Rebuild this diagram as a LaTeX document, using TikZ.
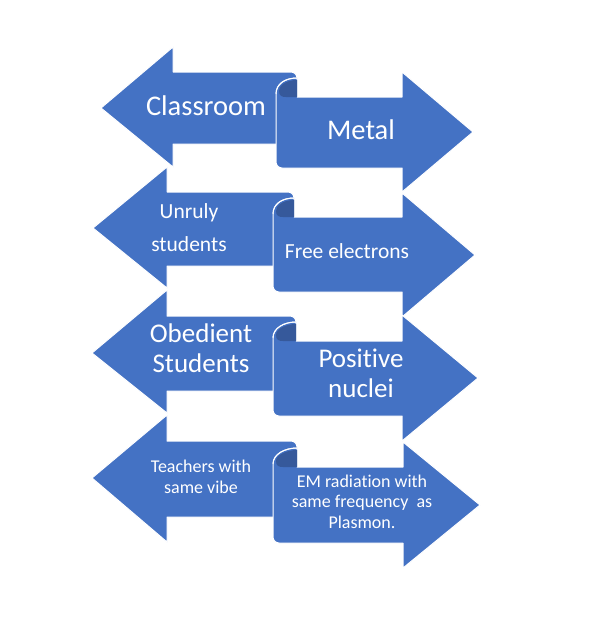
\documentclass[tikz,border=0pt]{standalone}
\usepackage{fontspec}
\setmainfont{Carlito}[RawFeature={-liga;-calt}]
\definecolor{arrblue}{HTML}{4472C4}
\definecolor{curldark}{HTML}{36599B}
\tikzset{
  arrshape/.style={fill=arrblue, draw=white, line width=1pt, line join=round},
  curlshade/.style={fill=curldark, draw=none},
  lbl/.style={text=white, align=center, inner sep=0pt},
}
% left arrow: tipx tipy headx headtop headbot shafttop shaftbot rightx
\newcommand\leftarr[8]{%
  \filldraw[arrshape] (#1,#2) -- (#3,#4) -- (#3,#6) [rounded corners=6pt] -- (#8,#6) -- (#8,#7) [sharp corners] -- (#3,#7) -- (#3,#5) -- cycle;
}
% right arrow: leftx rightR shafttop shaftbot headtop headbot headx tipx tipy
\newcommand\rightarr[9]{%
  \filldraw[arrshape] (#2,#3) -- (#7,#3) -- (#7,#5) -- (#8,#9) -- (#7,#6) -- (#7,#4) [rounded corners=6pt] -- (#1,#4) -- ({#1},{#4-20}) [sharp corners] -- ({#1},{#3-3}) .. controls ({#1},{#3-13}) and ({#2-12},{#3-19}) .. ({#2},{#3-19}) -- cycle;
  \fill[curlshade] ({#2},{#3-17}) .. controls ({#2-10},{#3-17}) and ({#1+3},{#3-12}) .. ({#1+3},{#3-6}) .. controls ({#1+3},{#3-1}) and ({#1+6},{#3}) .. ({#1+10},{#3}) -- ({#2},{#3}) -- cycle;
  \draw[white, line width=1pt] ({#1},{#3-3}) .. controls ({#1},{#3-13}) and ({#2-12},{#3-19}) .. ({#2},{#3-19});
}
\begin{document}
\begin{tikzpicture}[x=1pt, y=-1pt]
\useasboundingbox[fill=white] (0,0) rectangle (602,642);
% row 1
\leftarr{101}{108}{173}{47}{167}{72}{144}{297}
\rightarr{276}{297}{97}{168}{72}{192}{402}{473}{132}
% row 2
\leftarr{93}{228}{167}{167}{288}{192}{266}{294}
\rightarr{273}{294}{217}{292}{193}{317}{402}{475}{255}
% row 3
\leftarr{92}{353}{167}{290}{413}{316}{391}{296}
\rightarr{273}{296}{341}{416}{315}{441}{402}{478}{378}
% row 4
\leftarr{92}{478}{167}{415}{542}{441}{517}{297}
\rightarr{273}{297}{467}{543}{442}{568}{403}{480}{505}
% labels
\node[lbl, font=\fontsize{28.5}{34}\selectfont] (classroom) at (206,105.5) {Classroom};
\node[lbl, font=\fontsize{28.5}{34}\selectfont] (metal) at (361,129.5) {Metal};
\node[lbl, font=\fontsize{21.5}{33}\selectfont] (unruly) at (189,227.5) {Unruly\\students};
\node[lbl, font=\fontsize{21.5}{33}\selectfont] (free) at (347,251) {Free electrons};
\node[lbl, font=\fontsize{27}{30}\selectfont] (obedient) at (201,348) {Obedient\\Students};
\node[lbl, font=\fontsize{27}{30}\selectfont] (positive) at (361,373) {Posit\kern0pt ive\\nuclei};
\node[lbl, font=\fontsize{18}{20.5}\selectfont] (teachers) at (201,477) {Teachers with\\same vibe};
\node[lbl, font=\fontsize{18}{20.5}\selectfont] (em) at (362,501.75) {EM radiat\kern0pt ion with\\same frequency~ as\\Plasmon.};
\end{tikzpicture}
\end{document}
